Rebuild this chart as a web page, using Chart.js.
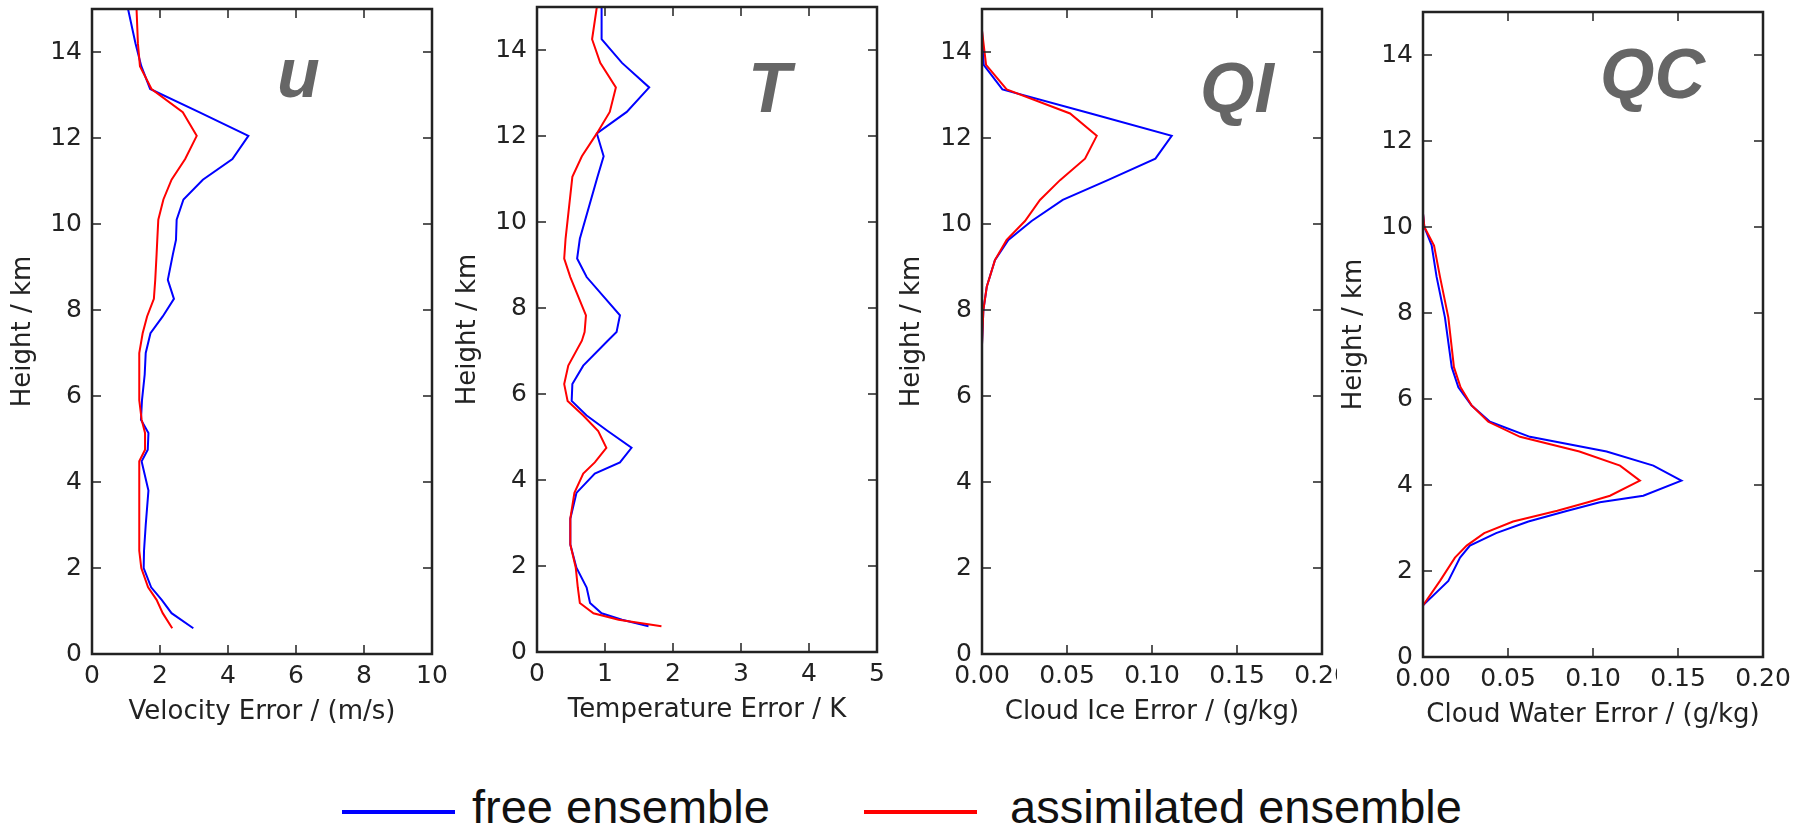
<!DOCTYPE html>
<html>
<head>
<meta charset="utf-8">
<script src="https://cdn.jsdelivr.net/npm/chart.js@4.4.1/dist/chart.umd.min.js"></script>
<style>
  html, body { margin: 0; padding: 0; background: #fff; }
  body { width: 1798px; height: 825px; position: relative; overflow: hidden; }
  canvas { position: absolute; background: #fff; }
  .legend-line { position: absolute; height: 4px; }
  .legend-text {
    position: absolute;
    font-family: 'Liberation Sans', Arial, sans-serif;
    font-size: 47px;
    line-height: 47px;
    color: #111;
    white-space: nowrap;
  }
</style>
</head>
<body>
<canvas id="panelU"></canvas>
<canvas id="panelT"></canvas>
<canvas id="panelQI"></canvas>
<canvas id="panelQC"></canvas>

<script>
// Serien / legend
const seriesNames = ['free ensemble', 'assimilated ensemble'];
const seriesColors = ['#0000ff', '#ff0000'];

// Height axis (km), shared tick labels
const heightTicks = [0, 2, 4, 6, 8, 10, 12, 14];

// u - velocity error (m/s)
const uHeights = [0.6, 0.95, 1.26, 1.55, 2.0, 2.4, 3.0, 3.8, 4.48, 4.75, 5.14, 5.45, 5.9, 6.5, 7.0, 7.46, 7.85, 8.26, 8.7, 9.3, 9.63, 10.1, 10.57, 11.03, 11.51, 12.05, 12.6, 13.14, 13.67, 14.2, 15.0];
const uFree = [2.98, 2.34, 2.05, 1.74, 1.52, 1.53, 1.58, 1.66, 1.46, 1.64, 1.66, 1.44, 1.47, 1.55, 1.58, 1.72, 2.08, 2.41, 2.23, 2.38, 2.47, 2.49, 2.69, 3.26, 4.13, 4.6, 3.15, 1.71, 1.45, 1.28, 1.06];
const uAssim = [2.36, 2.08, 1.90, 1.65, 1.45, 1.39, 1.39, 1.39, 1.39, 1.56, 1.56, 1.46, 1.39, 1.39, 1.39, 1.49, 1.62, 1.82, 1.86, 1.90, 1.92, 1.95, 2.10, 2.34, 2.74, 3.08, 2.67, 1.75, 1.41, 1.35, 1.31];
const uTicks = [0, 2, 4, 6, 8, 10];

// T - temperature error (K)
const tHeights = [0.6, 0.75, 0.9, 1.14, 1.5, 1.96, 2.5, 3.1, 3.7, 4.15, 4.41, 4.75, 5.14, 5.5, 5.84, 6.23, 6.66, 7.24, 7.44, 7.83, 8.72, 9.15, 9.61, 11.05, 11.53, 12.06, 12.56, 13.13, 13.7, 14.25, 15.0];
const tFree = [1.64, 1.25, 0.95, 0.78, 0.73, 0.58, 0.49, 0.49, 0.58, 0.85, 1.22, 1.39, 1.04, 0.73, 0.51, 0.52, 0.68, 1.04, 1.17, 1.22, 0.73, 0.59, 0.63, 0.89, 0.98, 0.88, 1.32, 1.65, 1.25, 0.95, 0.95];
const tAssim = [1.83, 1.20, 0.83, 0.63, 0.60, 0.57, 0.49, 0.49, 0.55, 0.68, 0.85, 1.02, 0.90, 0.68, 0.45, 0.40, 0.46, 0.66, 0.70, 0.72, 0.49, 0.40, 0.42, 0.52, 0.66, 0.88, 1.07, 1.16, 0.93, 0.81, 0.88];
const tTicks = [0, 1, 2, 3, 4, 5];

// QI - cloud ice error (g/kg)
const qiHeights = [7.2, 8.0, 8.54, 9.16, 9.63, 10.07, 10.56, 11.02, 11.52, 12.05, 12.57, 13.13, 13.7, 14.5];
const qiFree = [0, 0.0008, 0.0028, 0.0076, 0.0155, 0.0292, 0.0475, 0.074, 0.102, 0.1116, 0.064, 0.012, 0.001, 0];
const qiAssim = [0, 0.0008, 0.0028, 0.0076, 0.0145, 0.0253, 0.0341, 0.0459, 0.0606, 0.0675, 0.0518, 0.0145, 0.0024, 0];
const qTicks = [0, 0.05, 0.10, 0.15, 0.20];

// QC - cloud water error (g/kg)
const qcHeights = [1.2, 1.77, 2.31, 2.59, 2.88, 3.15, 3.4, 3.6, 3.75, 4.10, 4.45, 4.78, 5.12, 5.47, 5.85, 6.27, 6.74, 7.9, 8.84, 9.57, 10.0, 10.31];
const qcFree = [0, 0.0149, 0.0218, 0.0276, 0.043, 0.062, 0.085, 0.104, 0.1296, 0.152, 0.1355, 0.108, 0.0629, 0.0394, 0.0286, 0.0208, 0.0169, 0.0129, 0.008, 0.0051, 0.0008, 0];
const qcAssim = [0, 0.010, 0.0188, 0.0257, 0.036, 0.053, 0.079, 0.097, 0.110, 0.1276, 0.1159, 0.092, 0.0571, 0.0384, 0.0286, 0.0221, 0.0182, 0.0149, 0.010, 0.0065, 0.0008, 0];

const textColor = '#222';
const tickFont = { family: "'DejaVu Sans', sans-serif", size: 25 };
const labelFont = { family: "'DejaVu Sans', sans-serif", size: 26 };

// Rahmen, nach innen zeigende Ticks und Panel-Kennung
const framePlugin = {
    id: 'frame',
    afterDatasetsDraw(chart, args, opts) {
        const ctx = chart.ctx;
        const a = chart.chartArea;
        const x = chart.scales.x;
        const y = chart.scales.y;
        ctx.save();
        ctx.strokeStyle = textColor;
        ctx.lineWidth = 1.5;
        ctx.beginPath();
        x.ticks.forEach(function(t) {
            const px = x.getPixelForValue(t.value);
            if (px <= a.left + 1 || px >= a.right - 1) return;
            ctx.moveTo(px, a.bottom); ctx.lineTo(px, a.bottom - 9);
            ctx.moveTo(px, a.top); ctx.lineTo(px, a.top + 9);
        });
        y.ticks.forEach(function(t) {
            const py = y.getPixelForValue(t.value);
            if (py >= a.bottom - 1 || py <= a.top + 1) return;
            ctx.moveTo(a.left, py); ctx.lineTo(a.left + 9, py);
            ctx.moveTo(a.right, py); ctx.lineTo(a.right - 9, py);
        });
        ctx.stroke();
        ctx.lineWidth = 2.5;
        ctx.strokeRect(a.left, a.top, a.width, a.height);

        ctx.font = "italic bold 70px 'Liberation Sans', Arial, sans-serif";
        ctx.fillStyle = '#666';
        ctx.textAlign = 'left';
        ctx.textBaseline = 'alphabetic';
        ctx.fillText(opts.tag, a.left + opts.dx, a.top + opts.dy);
        ctx.restore();
    }
};

function toPoints(heights, values) {
    return heights.map(function(h, i) { return { x: values[i], y: h }; });
}

function makePanel(p) {
    const canvas = document.getElementById(p.id);
    const width = p.yWidth + 340 + p.rightPad;
    const height = 9 + 645 + 80;
    canvas.width = width;
    canvas.height = height;
    canvas.style.left = p.left + 'px';
    canvas.style.top = p.top + 'px';

    new Chart(canvas.getContext('2d'), {
        type: 'scatter',
        data: {
            datasets: [p.free, p.assim].map(function(vals, i) {
                return {
                    label: seriesNames[i],
                    data: toPoints(p.heights, vals),
                    showLine: true,
                    borderColor: seriesColors[i],
                    backgroundColor: seriesColors[i],
                    borderWidth: 2,
                    pointRadius: 0,
                    tension: 0
                };
            }).reverse()
        },
        options: {
            responsive: false,
            devicePixelRatio: 1,
            animation: false,
            layout: { padding: { top: 9, right: p.rightPad, bottom: 0, left: 0 } },
            plugins: {
                legend: { display: false },
                tooltip: { enabled: false },
                frame: { tag: p.tag, dx: p.tagDx, dy: p.tagDy }
            },
            scales: {
                x: {
                    type: 'linear',
                    min: 0,
                    max: p.xTicks[p.xTicks.length - 1],
                    grid: { display: false, drawTicks: false },
                    border: { display: false },
                    afterBuildTicks: function(s) { s.ticks = p.xTicks.map(function(v) { return { value: v }; }); },
                    afterFit: function(s) { s.height = 80; s.paddingLeft = 0; s.paddingRight = 0; },
                    ticks: {
                        padding: 7,
                        color: textColor,
                        font: tickFont,
                        maxRotation: 0,
                        autoSkip: false,
                        callback: function(v) { return p.decimals ? Number(v).toFixed(p.decimals) : String(v); }
                    },
                    title: { display: true, text: p.xTitle, color: textColor, font: labelFont, padding: { top: 0, bottom: 6 } }
                },
                y: {
                    type: 'linear',
                    min: 0,
                    max: 15,
                    grid: { display: false, drawTicks: false },
                    border: { display: false },
                    afterBuildTicks: function(s) { s.ticks = heightTicks.map(function(v) { return { value: v }; }); },
                    afterFit: function(s) { s.width = p.yWidth; s.paddingTop = 0; s.paddingBottom = 0; },
                    ticks: { padding: 10, color: textColor, font: tickFont },
                    title: { display: true, text: 'Height / km', color: textColor, font: labelFont, padding: { top: p.yTitlePad, bottom: 0 } }
                }
            }
        },
        plugins: [framePlugin]
    });
}

document.addEventListener('DOMContentLoaded', function() {
    makePanel({ id: 'panelU', left: 0, top: 0, yWidth: 92, rightPad: 15, yTitlePad: 7.4,
        heights: uHeights, free: uFree, assim: uAssim, xTicks: uTicks, decimals: 0,
        xTitle: 'Velocity Error / (m/s)', tag: 'u', tagDx: 185, tagDy: 88 });
    makePanel({ id: 'panelT', left: 447, top: -2, yWidth: 90, rightPad: 10, yTitlePad: 6,
        heights: tHeights, free: tFree, assim: tAssim, xTicks: tTicks, decimals: 0,
        xTitle: 'Temperature Error / K', tag: 'T', tagDx: 211, tagDy: 105 });
    makePanel({ id: 'panelQI', left: 890, top: 0, yWidth: 92, rightPad: 15, yTitlePad: 7,
        heights: qiHeights, free: qiFree, assim: qiAssim, xTicks: qTicks, decimals: 2,
        xTitle: 'Cloud Ice Error / (g/kg)', tag: 'QI', tagDx: 218, tagDy: 103 });
    makePanel({ id: 'panelQC', left: 1337, top: 3, yWidth: 86, rightPad: 35, yTitlePad: 1.4,
        heights: qcHeights, free: qcFree, assim: qcAssim, xTicks: qTicks, decimals: 2,
        xTitle: 'Cloud Water Error / (g/kg)', tag: 'QC', tagDx: 177, tagDy: 86 });

    // Legende unten
    const legendPos = [{ line: 342, text: 472 }, { line: 864, text: 1010 }];
    seriesNames.forEach(function(name, i) {
        const line = document.createElement('div');
        line.className = 'legend-line';
        line.style.left = legendPos[i].line + 'px';
        line.style.top = '810px';
        line.style.width = '113px';
        line.style.background = seriesColors[i];
        document.body.appendChild(line);

        const label = document.createElement('div');
        label.className = 'legend-text';
        label.style.left = legendPos[i].text + 'px';
        label.style.top = '783px';
        label.textContent = name;
        document.body.appendChild(label);
    });
});
</script>
</body>
</html>
